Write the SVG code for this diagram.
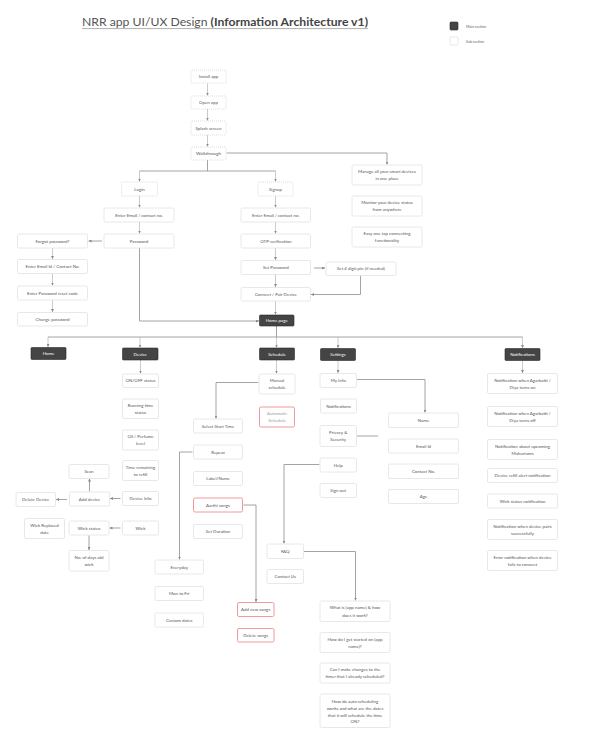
<svg xmlns="http://www.w3.org/2000/svg" width="598" height="742" viewBox="0 0 598 742">
<defs>
<marker id="ar" viewBox="0 0 4 4" refX="4" refY="2" markerWidth="3" markerHeight="3" markerUnits="userSpaceOnUse" orient="auto"><path d="M0,0 L4,2 L0,4 z" fill="#8a8a8a"/></marker>
</defs>
<style>
.n{fill:#fff;stroke:#e2e2e2;stroke-width:0.8}
.d{fill:#fff;stroke:#c8c8c8;stroke-width:0.6;stroke-dasharray:1 1}
.r{fill:#fff;stroke:#ef8f8f;stroke-width:0.9}
.m{fill:#444;stroke:#2a2a2a;stroke-width:0.6}
.t{font-family:"Lato","Liberation Sans",sans-serif;font-size:4.4px;fill:#555;text-anchor:middle;dominant-baseline:central}
.w{fill:#fff}
.g{fill:#9c9c9c}
.c path{fill:none;stroke:#9a9a9a;stroke-width:0.9}
.c path.s{stroke:#a8a8a8;stroke-width:0.6}
.lg{font-family:"Lato","Liberation Sans",sans-serif;font-size:3.6px;fill:#666;dominant-baseline:central}
</style>
<rect width="598" height="742" fill="#fff"/>
<g id="title">
<text x="82" y="26" font-family="Lato,'Liberation Sans',sans-serif" font-size="12" fill="#555" textLength="286" lengthAdjust="spacingAndGlyphs">NRR app UI/UX Design <tspan font-weight="bold" fill="#444">(Information Architecture v1)</tspan></text>
<line x1="82" y1="28.6" x2="368" y2="28.6" stroke="#9a9a9a" stroke-width="0.8"/>
</g>
<g id="legend">
<rect x="450" y="22" width="8" height="8" rx="1" class="m"/>
<text x="466" y="26.3" class="lg">Main section</text>
<rect x="450" y="37" width="8" height="8" rx="1" class="n"/>
<text x="466" y="41" class="lg">Sub section</text>
</g>
<g id="connectors" class="c">
<path class="s" d="M207.5,83.5V95.5" marker-end="url(#ar)"/>
<path class="s" d="M207.5,109V120.5" marker-end="url(#ar)"/>
<path class="s" d="M207.5,135V146.5" marker-end="url(#ar)"/>
<path d="M207.5,160V171M139.5,171H275.5"/>
<path class="s" d="M139.5,171V181.5" marker-end="url(#ar)"/>
<path class="s" d="M275.5,171V181.5" marker-end="url(#ar)"/>
<path d="M226.5,153H387V164.5" marker-end="url(#ar)"/>
<path class="s" d="M139.5,196V207.5" marker-end="url(#ar)"/>
<path class="s" d="M139.5,222V233.5" marker-end="url(#ar)"/>
<path d="M102,241H88.5" marker-end="url(#ar)"/>
<path class="s" d="M52.5,248V259" marker-end="url(#ar)"/>
<path class="s" d="M52.5,273.5V285.5" marker-end="url(#ar)"/>
<path class="s" d="M52.5,300V312" marker-end="url(#ar)"/>
<path d="M139.5,248V321H259" marker-end="url(#ar)"/>
<path class="s" d="M275.5,196V207.5" marker-end="url(#ar)"/>
<path class="s" d="M275.5,222V233.5" marker-end="url(#ar)"/>
<path class="s" d="M275.5,248V260" marker-end="url(#ar)"/>
<path class="s" d="M275.5,274.5V287" marker-end="url(#ar)"/>
<path class="s" d="M275.5,301V314.5" marker-end="url(#ar)"/>
<path d="M314,268H325" marker-end="url(#ar)"/>
<path d="M360.5,275.5V294.5H311" marker-end="url(#ar)"/>
<path d="M276.5,326V337M48,337H522.5"/>
<path class="s" d="M48,337V347" marker-end="url(#ar)"/>
<path class="s" d="M140,337V347.5" marker-end="url(#ar)"/>
<path class="s" d="M276.5,337V347.5" marker-end="url(#ar)"/>
<path class="s" d="M338,337V348" marker-end="url(#ar)"/>
<path class="s" d="M522.5,337V348" marker-end="url(#ar)"/>
<path class="s" d="M140.5,360V373.5" marker-end="url(#ar)"/>
<path class="s" d="M276.5,360V373.5" marker-end="url(#ar)"/>
<path class="s" d="M338,360.5V373" marker-end="url(#ar)"/>
<path class="s" d="M522.5,361V373" marker-end="url(#ar)"/>
<path d="M258.5,382.5H216V418.5" marker-end="url(#ar)"/>
<path d="M120.5,498.5H110" marker-end="url(#ar)"/>
<path d="M89.5,491.5V478.5" marker-end="url(#ar)"/>
<path d="M67,499.5H56" marker-end="url(#ar)"/>
<path d="M120.5,528H109.5" marker-end="url(#ar)"/>
<path d="M89,535.5V550" marker-end="url(#ar)"/>
<path d="M192.5,452H179.5V559.5" marker-end="url(#ar)"/>
<path d="M243.5,505H256V602" marker-end="url(#ar)"/>
<path d="M357,379.5H425V412.5" marker-end="url(#ar)"/>
<path d="M357,436H378"/>
<path d="M319.5,464.5H284V543.5" marker-end="url(#ar)"/>
<path d="M304,551.5H355.5V600.5" marker-end="url(#ar)"/>
</g>
<g id="install"><rect x="191" y="70" width="35" height="13" rx="1" class="d"/><text x="208.5" y="76.5" class="t">Install app</text></g>
<g id="open"><rect x="191" y="96" width="35" height="13" rx="1" class="d"/><text x="208.5" y="102.5" class="t">Open app</text></g>
<g id="splash"><rect x="191" y="121" width="35" height="14" rx="1" class="d"/><text x="208.5" y="128" class="t">Splash screen</text></g>
<g id="walkthrough"><rect x="191" y="147" width="35" height="13" rx="1" class="d"/><text x="208.5" y="153.5" class="t">Walkthrough</text></g>
<g id="login"><rect x="121.5" y="182" width="36" height="14" rx="1" class="d"/><text x="139.5" y="189" class="t">Login</text></g>
<g id="signup"><rect x="258" y="182" width="35" height="14" rx="1" class="d"/><text x="275.5" y="189" class="t">Signup</text></g>
<g id="login-email"><rect x="104" y="208" width="70" height="14" rx="1.5" class="n"/><text x="139" y="215" class="t">Enter Email / contact no.</text></g>
<g id="password"><rect x="104" y="234" width="70" height="14" rx="1.5" class="n"/><text x="139" y="241" class="t">Password</text></g>
<g id="forgot"><rect x="17.5" y="234" width="70" height="14" rx="1.5" class="n"/><text x="52.5" y="241" class="t">Forgot password?</text></g>
<g id="forgot-email"><rect x="17.5" y="259.5" width="70" height="14" rx="1.5" class="n"/><text x="52.5" y="266.5" class="t">Enter Email Id / Contact No.</text></g>
<g id="reset-code"><rect x="17.5" y="286" width="70" height="14" rx="1.5" class="n"/><text x="52.5" y="293" class="t">Enter Password reset code</text></g>
<g id="change-password"><rect x="17.5" y="312.5" width="70" height="13.5" rx="1.5" class="n"/><text x="52.5" y="319.3" class="t">Change password</text></g>
<g id="signup-email"><rect x="241" y="208" width="69.5" height="14" rx="1.5" class="n"/><text x="275.8" y="215" class="t">Enter Email / contact no.</text></g>
<g id="otp"><rect x="241" y="234" width="69.5" height="14" rx="1.5" class="n"/><text x="275.8" y="241" class="t">OTP verification</text></g>
<g id="set-password"><rect x="241" y="260.5" width="69.5" height="14" rx="1.5" class="n"/><text x="275.8" y="267.5" class="t">Set Password</text></g>
<g id="pin"><rect x="326" y="262" width="70" height="13.5" rx="1.5" class="n"/><text x="361" y="268.8" class="t">Set 4 digit pin (if needed)</text></g>
<g id="connect"><rect x="241" y="287.5" width="69.5" height="13.5" rx="1.5" class="n"/><text x="275.8" y="294.3" class="t">Connect / Pair Device</text></g>
<g id="home-page"><rect x="259.5" y="315" width="34.5" height="11" rx="1" class="m"/><text x="276.8" y="320.5" class="t w">Home page</text></g>
<g id="manage"><rect x="352" y="165" width="70" height="20" rx="1.5" class="n"/><text x="387" y="171.8" class="t">Manage all your smart devices<tspan x="387" dy="6.6">in one place</tspan></text></g>
<g id="monitor"><rect x="352" y="196" width="70" height="20" rx="1.5" class="n"/><text x="387" y="202.8" class="t">Monitor your device status<tspan x="387" dy="6.6">from anywhere</tspan></text></g>
<g id="easy"><rect x="352" y="227" width="70" height="20" rx="1.5" class="n"/><text x="387" y="233.8" class="t">Easy one tap connecting<tspan x="387" dy="6.6">functionality</tspan></text></g>
<g id="sec-home"><rect x="31" y="347.5" width="35" height="12" rx="1" class="m"/><text x="48.5" y="353.5" class="t w">Home</text></g>
<g id="sec-device"><rect x="122.5" y="348" width="35.5" height="12" rx="1" class="m"/><text x="140.2" y="354" class="t w">Device</text></g>
<g id="sec-schedule"><rect x="259.5" y="348" width="35" height="12" rx="1" class="m"/><text x="277" y="354" class="t w">Schedule</text></g>
<g id="sec-settings"><rect x="320.5" y="348.5" width="35" height="12" rx="1" class="m"/><text x="338" y="354.5" class="t w">Settings</text></g>
<g id="sec-notifications"><rect x="505" y="348.5" width="35" height="12" rx="1" class="m"/><text x="522.5" y="354.5" class="t w">Notifications</text></g>
<g id="onoff"><rect x="122.5" y="374" width="36" height="13.5" rx="1.5" class="n"/><text x="140.5" y="380.8" class="t">ON/OFF status</text></g>
<g id="running"><rect x="122.5" y="399" width="36" height="19.5" rx="1.5" class="n"/><text x="140.5" y="405.4" class="t">Running time<tspan x="140.5" dy="6.8">status</tspan></text></g>
<g id="oil"><rect x="122.5" y="430" width="36" height="20" rx="1.5" class="n"/><text x="140.5" y="436.6" class="t">Oil / Perfume<tspan x="140.5" dy="6.8">level</tspan></text></g>
<g id="time-remaining"><rect x="122.5" y="460.5" width="36" height="20" rx="1.5" class="n"/><text x="140.5" y="467.1" class="t">Time remaining<tspan x="140.5" dy="6.8">to refill</tspan></text></g>
<g id="device-info"><rect x="122.5" y="491.5" width="36" height="14" rx="1.5" class="n"/><text x="140.5" y="498.5" class="t">Device Info</text></g>
<g id="wick"><rect x="122.5" y="521" width="36" height="14" rx="1.5" class="n"/><text x="140.5" y="528" class="t">Wick</text></g>
<g id="add-device"><rect x="69.5" y="492" width="40" height="14" rx="1.5" class="n"/><text x="89.5" y="499" class="t">Add device</text></g>
<g id="scan"><rect x="69" y="464.5" width="40" height="14" rx="1.5" class="n"/><text x="89" y="471.5" class="t">Scan</text></g>
<g id="delete-device"><rect x="16" y="492.5" width="39.5" height="14" rx="1.5" class="n"/><text x="35.7" y="499.5" class="t">Delete Device</text></g>
<g id="wick-status"><rect x="69" y="521" width="40" height="14" rx="1.5" class="n"/><text x="89" y="528" class="t">Wick status</text></g>
<g id="wick-replaced"><rect x="24.5" y="518.5" width="40" height="20" rx="1.5" class="n"/><text x="44.5" y="525.1" class="t">Wick Replaced<tspan x="44.5" dy="6.8">date</tspan></text></g>
<g id="days-old"><rect x="69" y="550.5" width="40" height="20.5" rx="1.5" class="n"/><text x="89" y="557.3" class="t">No. of days old<tspan x="89" dy="6.8">wick</tspan></text></g>
<g id="manual"><rect x="259" y="374" width="36" height="20" rx="1.5" class="n"/><text x="277" y="380.6" class="t">Manual<tspan x="277" dy="6.8">schedule</tspan></text></g>
<g id="automatic"><rect x="259.5" y="407" width="35" height="20" rx="1.5" class="r"/><text x="277" y="413.6" class="t g">Automatic<tspan x="277" dy="6.8">Schedule</tspan></text></g>
<g id="start-time"><rect x="193.5" y="419" width="49" height="14" rx="1.5" class="n"/><text x="218" y="426" class="t">Select Start Time</text></g>
<g id="repeat"><rect x="193.5" y="445" width="49" height="14" rx="1.5" class="n"/><text x="218" y="452" class="t">Repeat</text></g>
<g id="label-name"><rect x="193.5" y="471.5" width="49" height="14" rx="1.5" class="n"/><text x="218" y="478.5" class="t">Label/Name</text></g>
<g id="aarthi"><rect x="193.5" y="498" width="49" height="14" rx="1.5" class="r"/><text x="218" y="505" class="t">Aarthi songs</text></g>
<g id="duration"><rect x="193.5" y="524.5" width="49" height="14" rx="1.5" class="n"/><text x="218" y="531.5" class="t">Set Duration</text></g>
<g id="everyday"><rect x="155" y="560" width="48.5" height="14" rx="1.5" class="n"/><text x="179.2" y="567" class="t">Everyday</text></g>
<g id="mon-fri"><rect x="155" y="586.5" width="48.5" height="14" rx="1.5" class="n"/><text x="179.2" y="593.5" class="t">Mon to Fri</text></g>
<g id="custom-dates"><rect x="155" y="613" width="48.5" height="14" rx="1.5" class="n"/><text x="179.2" y="620" class="t">Custom dates</text></g>
<g id="add-songs"><rect x="237.5" y="602.5" width="36.5" height="14" rx="1.5" class="r"/><text x="255.7" y="609.5" class="t">Add new songs</text></g>
<g id="delete-songs"><rect x="237.5" y="628.5" width="36.5" height="13.5" rx="1.5" class="r"/><text x="255.7" y="635.3" class="t">Delete songs</text></g>
<g id="my-info"><rect x="320" y="373.5" width="36.5" height="14" rx="1.5" class="n"/><text x="338.2" y="380.5" class="t">My  Info</text></g>
<g id="set-notifications"><rect x="320.5" y="399" width="36" height="14" rx="1.5" class="n"/><text x="338.5" y="406" class="t">Notifications</text></g>
<g id="privacy"><rect x="320" y="425.5" width="36.5" height="21" rx="1.5" class="n"/><text x="338.2" y="432.6" class="t">Privacy &amp;<tspan x="338.2" dy="6.8">Security</tspan></text></g>
<g id="help"><rect x="320" y="458" width="36.5" height="14" rx="1.5" class="n"/><text x="338.2" y="465" class="t">Help</text></g>
<g id="sign-out"><rect x="320" y="483.5" width="36.5" height="14" rx="1.5" class="n"/><text x="338.2" y="490.5" class="t">Sign out</text></g>
<g id="name"><rect x="388.5" y="413" width="70" height="14.5" rx="1.5" class="n"/><text x="423.5" y="420.2" class="t">Name</text></g>
<g id="email-id"><rect x="388.5" y="439" width="70" height="14" rx="1.5" class="n"/><text x="423.5" y="446" class="t">Email Id</text></g>
<g id="contact-no"><rect x="388.5" y="464" width="70" height="14.5" rx="1.5" class="n"/><text x="423.5" y="471.2" class="t">Contact No.</text></g>
<g id="age"><rect x="388.5" y="489.5" width="70" height="14" rx="1.5" class="n"/><text x="423.5" y="496.5" class="t">Age</text></g>
<g id="faq"><rect x="267" y="544" width="36.5" height="14.5" rx="1.5" class="n"/><text x="285.2" y="551.2" class="t">FAQ</text></g>
<g id="contact-us"><rect x="267" y="569.5" width="36.5" height="14" rx="1.5" class="n"/><text x="285.2" y="576.5" class="t">Contact Us</text></g>
<g id="q1"><rect x="320" y="601" width="70" height="20.5" rx="1.5" class="n"/><text x="355" y="607.8" class="t">What is (app name) &amp; how<tspan x="355" dy="6.8">does it work?</tspan></text></g>
<g id="q2"><rect x="320" y="632.5" width="70" height="20" rx="1.5" class="n"/><text x="355" y="639.1" class="t">How do I get started on (app<tspan x="355" dy="6.8">name)?</tspan></text></g>
<g id="q3"><rect x="320" y="663" width="70" height="20" rx="1.5" class="n"/><text x="355" y="669.6" class="t">Can I make changes to the<tspan x="355" dy="6.8">timer that I already scheduled?</tspan></text></g>
<g id="q4"><rect x="320" y="694" width="70" height="33.5" rx="1.5" class="n"/><text x="355" y="701.3" class="t">How do auto scheduling<tspan x="355" dy="6.7">works and what are the dates</tspan><tspan x="355" dy="6.7">that it will schedule the time</tspan><tspan x="355" dy="6.7">ON?</tspan></text></g>
<g id="n1"><rect x="487.5" y="373.5" width="70" height="20" rx="1.5" class="n"/><text x="522.5" y="380.1" class="t">Notification when Agarbatti /<tspan x="522.5" dy="6.8">Diya turns on</tspan></text></g>
<g id="n2"><rect x="487.5" y="406.5" width="70" height="20" rx="1.5" class="n"/><text x="522.5" y="413.1" class="t">Notification when Agarbatti /<tspan x="522.5" dy="6.8">Diya turns off</tspan></text></g>
<g id="n3"><rect x="487.5" y="439.5" width="70" height="20" rx="1.5" class="n"/><text x="522.5" y="446.1" class="t">Notification about upcoming<tspan x="522.5" dy="6.8">Muhurtams</tspan></text></g>
<g id="n4"><rect x="487.5" y="468.5" width="70" height="14" rx="1.5" class="n"/><text x="522.5" y="475.5" class="t">Device refill alert notification</text></g>
<g id="n5"><rect x="487.5" y="494" width="70" height="14" rx="1.5" class="n"/><text x="522.5" y="501" class="t">Wick status notification</text></g>
<g id="n6"><rect x="487.5" y="519.5" width="70" height="20" rx="1.5" class="n"/><text x="522.5" y="526.1" class="t">Notification when device pairs<tspan x="522.5" dy="6.8">successfully</tspan></text></g>
<g id="n7"><rect x="487.5" y="550.5" width="70" height="20" rx="1.5" class="n"/><text x="522.5" y="557.1" class="t">Error notification when device<tspan x="522.5" dy="6.8">fails to connect</tspan></text></g>
</svg>
